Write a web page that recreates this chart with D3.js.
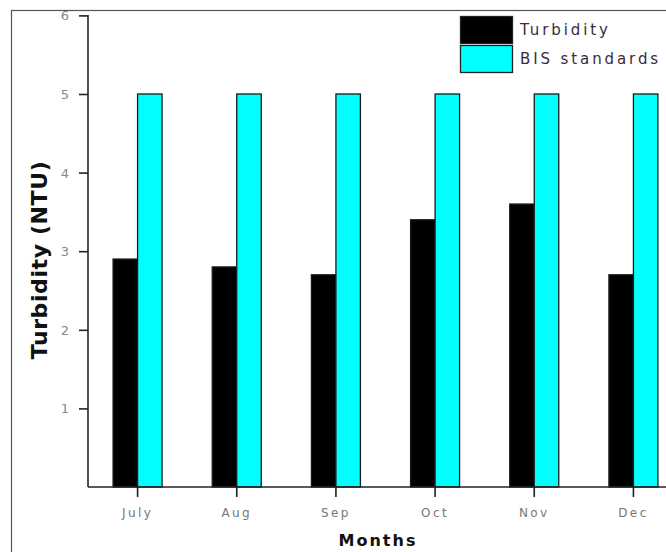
<!DOCTYPE html>
<html>
<head>
<meta charset="utf-8">
<script src="https://cdn.jsdelivr.net/npm/d3@7"></script>
<style>
  html, body { margin: 0; padding: 0; background: #fff; }
  svg { display: block; }
</style>
</head>
<body>
<svg id="chart" width="666" height="552"></svg>
<script>
// Monthly turbidity against the BIS permissible limit
const months = ["July", "Aug", "Sep", "Oct", "Nov", "Dec"];
const turbidity = [2.9, 2.8, 2.7, 3.4, 3.6, 2.7];
const bisStandard = [5, 5, 5, 5, 5, 5];
const yTicks = [1, 2, 3, 4, 5, 6];
const seriesNames = ["Turbidity", "BIS standards"];
const seriesColors = ["#000000", "#00ffff"];

const svg = d3.select("#chart");
const W = 666, H = 552;

// Outer frame
svg.append("rect")
  .attr("x", 11.5).attr("y", 10.5)
  .attr("width", W).attr("height", H)
  .attr("fill", "none").attr("stroke", "#555").attr("stroke-width", 1.2);

const plot = { left: 88, top: 15, right: 683, bottom: 487 };

const x = d3.scaleBand().domain(months).range([plot.left, plot.right]).padding(0);
const y = d3.scaleLinear().domain([0, 6]).range([plot.bottom, plot.top + 0.4]);
const barW = 24.5;

const rows = months.map((m, i) => ({ month: m, vals: [turbidity[i], bisStandard[i]] }));

const groups = svg.append("g").selectAll("g")
  .data(rows).join("g")
  .attr("transform", d => `translate(${x(d.month) + x.bandwidth() / 2},0)`);

groups.selectAll("rect")
  .data(d => d.vals.map((v, k) => ({ v, k })))
  .join("rect")
  .attr("x", d => d.k === 0 ? -barW : 0)
  .attr("y", d => y(d.v))
  .attr("width", barW)
  .attr("height", d => y(0) - y(d.v))
  .attr("fill", d => seriesColors[d.k])
  .attr("stroke", "#1a1a1a")
  .attr("stroke-width", 1.3);

// Y axis
const yAxis = svg.append("g")
  .attr("transform", `translate(${plot.left},0)`)
  .call(d3.axisLeft(y).tickValues(yTicks).tickSize(9).tickSizeOuter(0).tickFormat(d3.format("d")));
yAxis.select(".domain").attr("stroke", "#222").attr("stroke-width", 1.6)
  .attr("d", `M0,${plot.top}V${plot.bottom}`);
yAxis.selectAll(".tick line").attr("stroke", "#222").attr("stroke-width", 1.6);
yAxis.selectAll(".tick text")
  .attr("x", -19).attr("dy", "0.35em")
  .attr("fill", "#888").attr("font-family", "DejaVu Sans, sans-serif")
  .attr("font-size", 13);

// X axis
const xAxis = svg.append("g")
  .attr("transform", `translate(0,${plot.bottom})`)
  .call(d3.axisBottom(x).tickSize(10).tickSizeOuter(0));
xAxis.select(".domain").attr("stroke", "#222").attr("stroke-width", 1.6)
  .attr("d", `M${plot.left},0H${W}`);
xAxis.selectAll(".tick line").attr("stroke", "#222").attr("stroke-width", 1.6);
xAxis.selectAll(".tick text")
  .attr("y", 21).attr("dy", "0.71em")
  .attr("fill", "#777").attr("font-family", "DejaVu Sans, sans-serif")
  .attr("font-size", 12).attr("letter-spacing", "2.4px");

// Axis titles
svg.append("text")
  .attr("x", 378).attr("y", 546)
  .attr("text-anchor", "middle")
  .attr("font-family", "DejaVu Sans, sans-serif")
  .attr("font-weight", "bold").attr("font-size", 16).attr("letter-spacing", "2px")
  .attr("fill", "#111")
  .text("Months");

svg.append("text")
  .attr("transform", "translate(47,260) rotate(-90)")
  .attr("text-anchor", "middle")
  .attr("font-family", "DejaVu Sans, sans-serif")
  .attr("font-weight", "bold").attr("font-size", 22).attr("letter-spacing", "0.6px")
  .attr("fill", "#111")
  .text("Turbidity (NTU)");

// Legend
const legend = svg.append("g").attr("transform", "translate(460,16)");
seriesNames.forEach((name, i) => {
  legend.append("rect")
    .attr("x", 0.5).attr("y", i * 29 + 0.5)
    .attr("width", 52).attr("height", 27)
    .attr("fill", seriesColors[i]).attr("stroke", "#222").attr("stroke-width", 1.3);
  legend.append("text")
    .attr("x", 60).attr("y", i * 29 + 14).attr("dy", "0.35em")
    .attr("font-family", "DejaVu Sans, sans-serif")
    .attr("font-size", 15).attr("letter-spacing", "2.9px")
    .attr("fill", "#3a2a40")
    .text(name);
});
</script>
</body>
</html>
